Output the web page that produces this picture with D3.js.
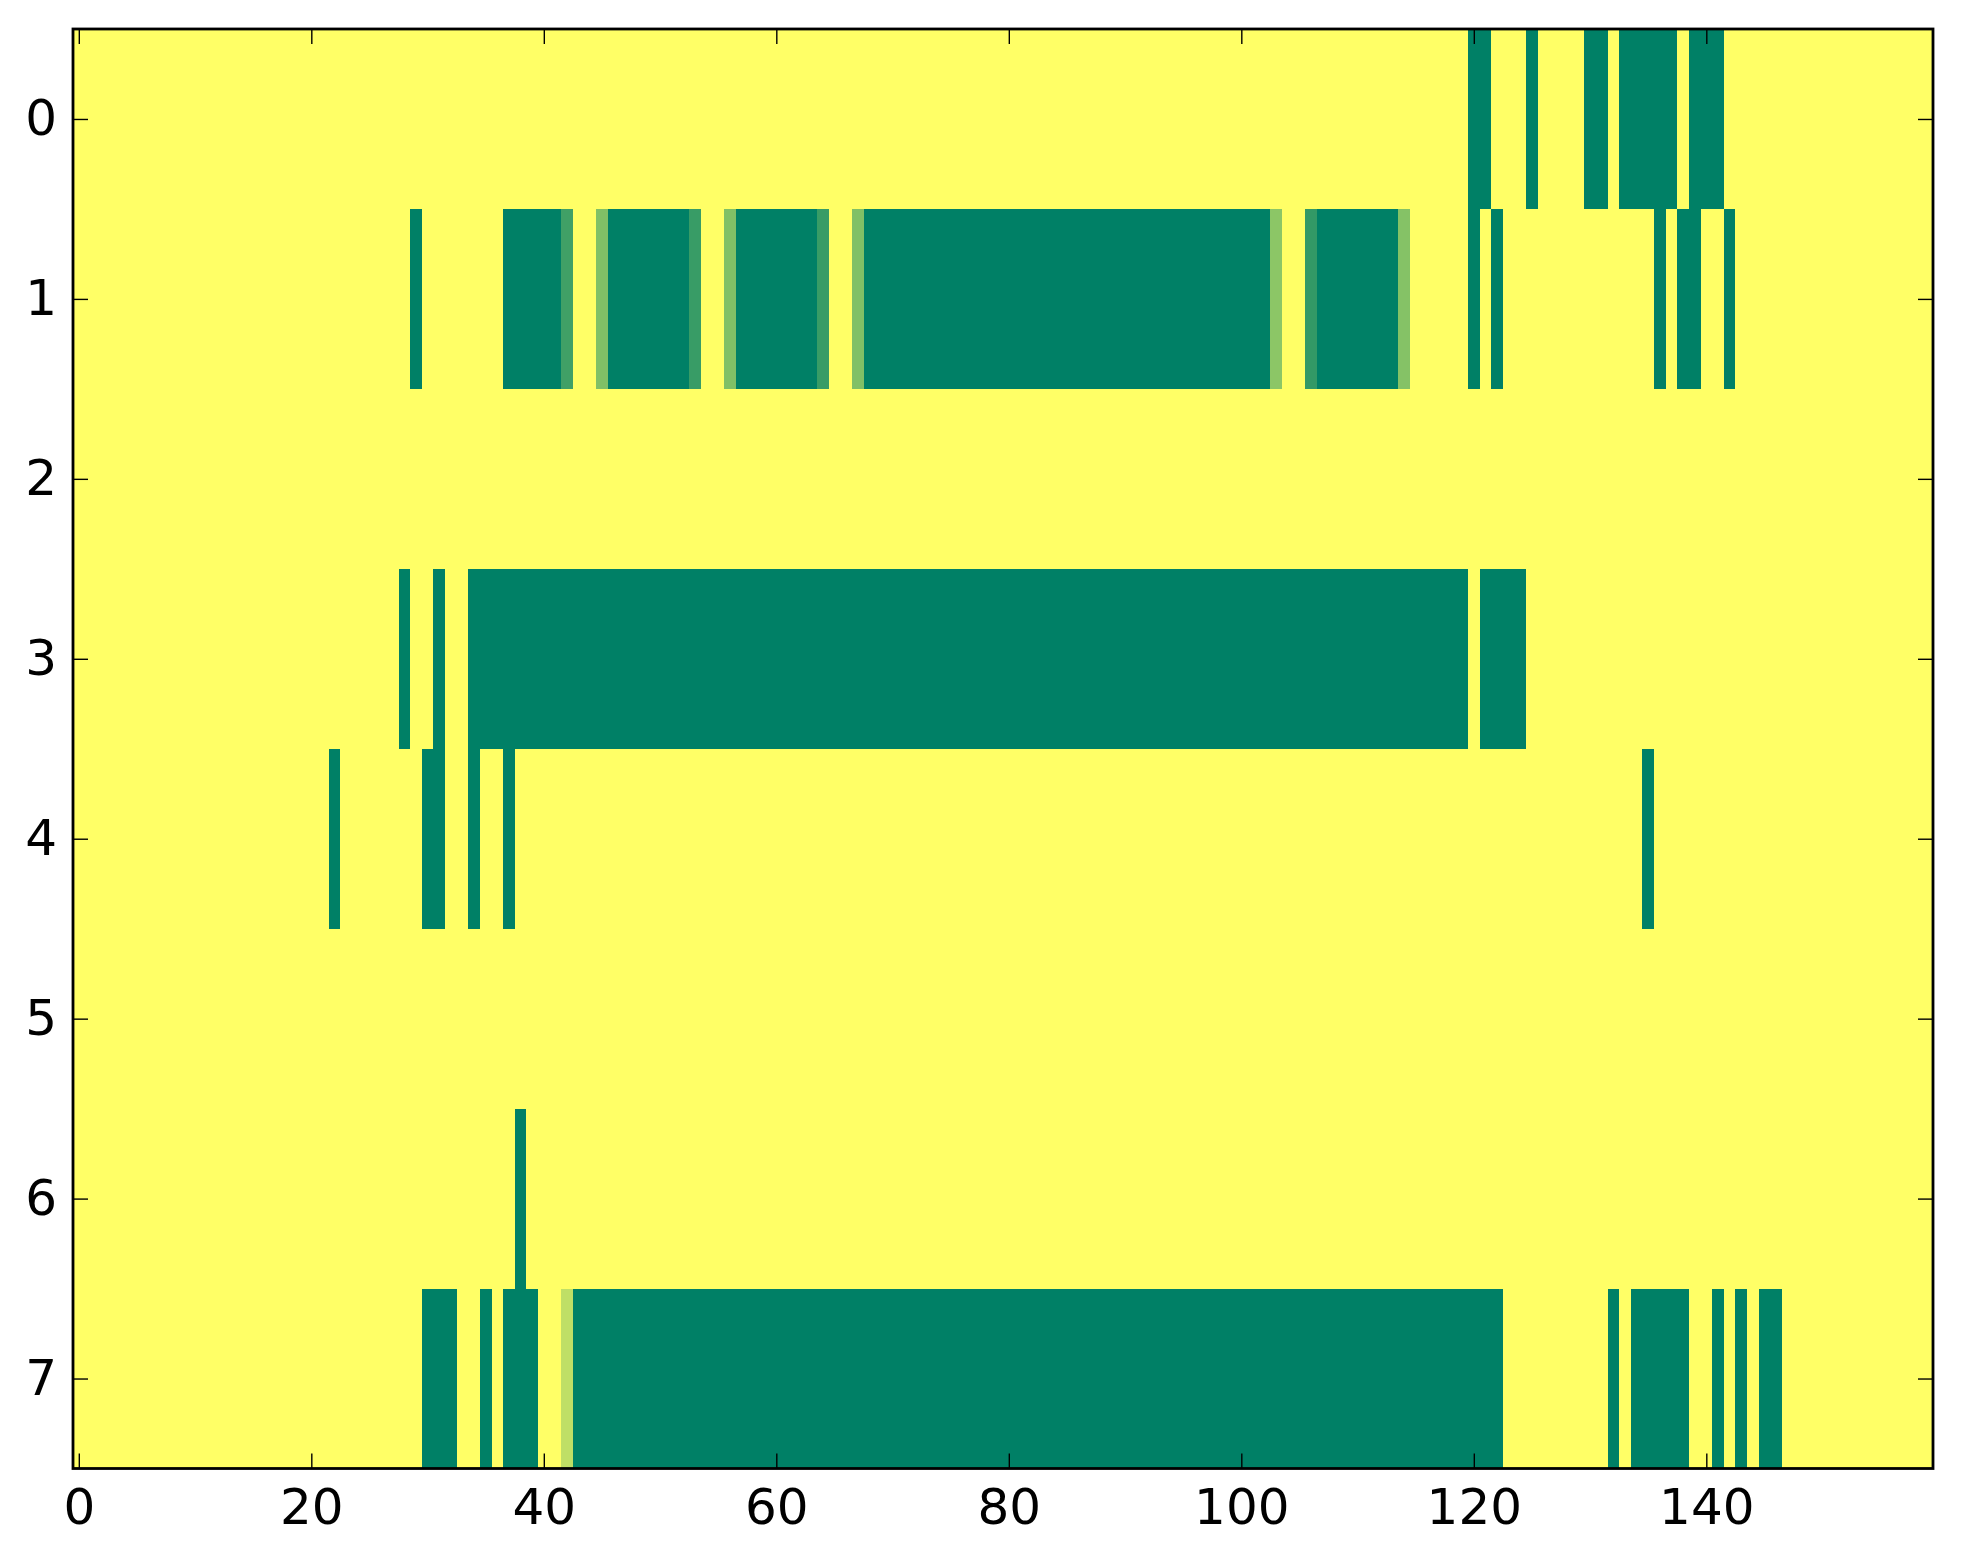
<!DOCTYPE html>
<html>
<head>
<meta charset="utf-8">
<script src="https://cdn.jsdelivr.net/npm/d3@7"></script>
<style>
  body { margin: 0; background: #fff; }
  text { font-family: "DejaVu Sans", sans-serif; }
</style>
</head>
<body>
<div id="chart"></div>
<script>
// grid size: 8 rows, 160 columns
var nCols = 160;
var rowIds = [0, 1, 2, 3, 4, 5, 6, 7];

// non-zero cells of each row as [firstCol, lastCol, value]
var row0 = [[120, 121, 1], [125, 125, 1], [130, 131, 1], [133, 137, 1], [139, 141, 1]];
var row1 = [[29, 29, 1], [37, 41, 1], [42, 42, 0.75], [45, 45, 0.5], [46, 52, 1],
            [53, 53, 0.78], [56, 56, 0.5], [57, 63, 1], [64, 64, 0.78], [67, 67, 0.5],
            [68, 102, 1], [103, 103, 0.45], [106, 106, 0.8], [107, 113, 1],
            [114, 114, 0.48], [120, 120, 1], [122, 122, 1], [136, 136, 1],
            [138, 139, 1], [142, 142, 1]];
var row2 = [];
var row3 = [[28, 28, 1], [31, 31, 1], [34, 119, 1], [121, 124, 1]];
var row4 = [[22, 22, 1], [30, 31, 1], [34, 34, 1], [37, 37, 1], [135, 135, 1]];
var row5 = [];
var row6 = [[38, 38, 1]];
var row7 = [[30, 32, 1], [35, 35, 1], [37, 39, 1], [42, 42, 0.25], [43, 122, 1],
            [132, 132, 1], [134, 138, 1], [141, 141, 1], [143, 143, 1], [145, 146, 1]];
var rowRuns = [row0, row1, row2, row3, row4, row5, row6, row7];

var xTicks = [0, 20, 40, 60, 80, 100, 120, 140];
var yTicks = [0, 1, 2, 3, 4, 5, 6, 7];

var svgWidth = 1963;
var svgHeight = 1564;
var plot = { left: 73, right: 1933, top: 29, bottom: 1468.5 };

var svg = d3.select("#chart").append("svg")
  .attr("width", svgWidth)
  .attr("height", svgHeight);

var x = d3.scaleLinear().domain([-0.5, nCols - 0.5]).range([plot.left, plot.right]);
var y = d3.scaleLinear().domain([-0.5, rowIds.length - 0.5]).range([plot.top, plot.bottom]);

// summer_r colormap: 0 -> yellow, 1 -> green
var color = d3.scaleLinear().domain([0, 1]).range(["#ffff66", "#008066"]);

// build the cell table from the runs
var cells = [];
rowIds.forEach(function (r) {
  var vals = new Array(nCols).fill(0);
  rowRuns[r].forEach(function (run) {
    for (var c = run[0]; c <= run[1]; c++) vals[c] = run[2];
  });
  vals.forEach(function (v, c) { cells.push({ row: r, col: c, value: v }); });
});

svg.append("g")
  .selectAll("rect")
  .data(cells)
  .enter()
  .append("rect")
  .attr("x", function (d) { return x(d.col - 0.5); })
  .attr("y", function (d) { return y(d.row - 0.5); })
  .attr("width", x(0.5) - x(-0.5) + 0.4)
  .attr("height", y(0.5) - y(-0.5) + 0.4)
  .attr("fill", function (d) { return color(d.value); })
  .attr("shape-rendering", "crispEdges");

// axes, ticks pointing inward like matplotlib classic
var tickLen = 15;
function styleAxis(g) {
  g.select(".domain").remove();
  g.selectAll(".tick line").attr("stroke", "#000").attr("stroke-width", 1.4);
  g.selectAll(".tick text").attr("fill", "#000").style("font-size", "50px")
    .style("font-family", "'DejaVu Sans', sans-serif");
}

svg.append("g")
  .attr("transform", "translate(0," + plot.bottom + ")")
  .call(d3.axisBottom(x).tickValues(xTicks).tickSizeInner(-tickLen).tickSizeOuter(0).tickPadding(20))
  .call(styleAxis);

svg.append("g")
  .attr("transform", "translate(0," + plot.top + ")")
  .call(d3.axisTop(x).tickValues(xTicks).tickSizeInner(-tickLen).tickSizeOuter(0).tickFormat(""))
  .call(styleAxis);

svg.append("g")
  .attr("transform", "translate(" + plot.left + ",0)")
  .call(d3.axisLeft(y).tickValues(yTicks).tickSizeInner(-tickLen).tickSizeOuter(0).tickPadding(16))
  .call(styleAxis);

svg.append("g")
  .attr("transform", "translate(" + plot.right + ",0)")
  .call(d3.axisRight(y).tickValues(yTicks).tickSizeInner(-tickLen).tickSizeOuter(0).tickFormat(""))
  .call(styleAxis);

// frame
svg.append("rect")
  .attr("x", plot.left)
  .attr("y", plot.top)
  .attr("width", plot.right - plot.left)
  .attr("height", plot.bottom - plot.top)
  .attr("fill", "none")
  .attr("stroke", "#000")
  .attr("stroke-width", 2.8);
</script>
</body>
</html>
